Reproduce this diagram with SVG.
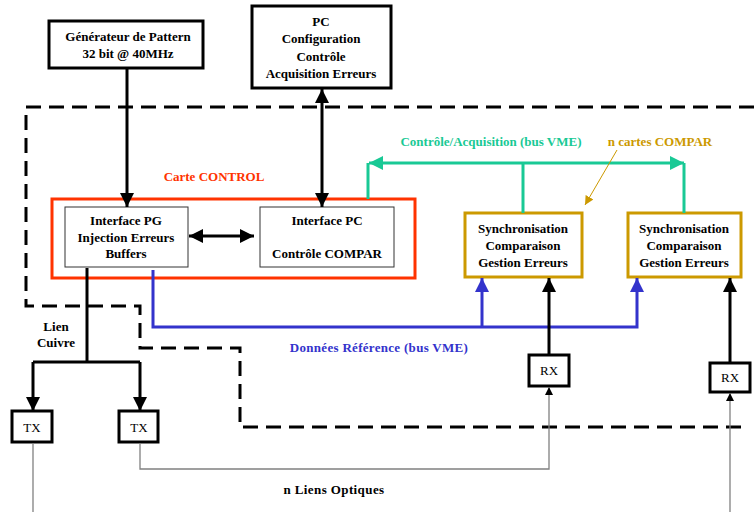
<svg xmlns="http://www.w3.org/2000/svg" width="754" height="512" viewBox="0 0 754 512">
<defs>
<marker id="ab" viewBox="0 0 10 10" refX="10" refY="5" markerWidth="14" markerHeight="14" markerUnits="userSpaceOnUse" orient="auto-start-reverse"><path d="M0,0 L10,5 L0,10 z" fill="#000"/></marker>
<marker id="ag" viewBox="0 0 10 10" refX="10" refY="5" markerWidth="14" markerHeight="14" markerUnits="userSpaceOnUse" orient="auto-start-reverse"><path d="M0,0 L10,5 L0,10 z" fill="#19c995"/></marker>
<marker id="abl" viewBox="0 0 10 10" refX="10" refY="5" markerWidth="14" markerHeight="14" markerUnits="userSpaceOnUse" orient="auto-start-reverse"><path d="M0,0 L10,5 L0,10 z" fill="#3333cc"/></marker>
<marker id="as" viewBox="0 0 10 10" refX="10" refY="5" markerWidth="8" markerHeight="8" markerUnits="userSpaceOnUse" orient="auto"><path d="M0,0 L10,5 L0,10 z" fill="#000"/></marker>
<marker id="ao" viewBox="0 0 10 10" refX="10" refY="5" markerWidth="9" markerHeight="9" markerUnits="userSpaceOnUse" orient="auto"><path d="M0,0 L10,5 L0,10 z" fill="#cc9900"/></marker>
</defs>
<style>
text{font-family:"Liberation Serif","Times New Roman",serif;font-size:13px;font-weight:bold;text-anchor:middle;fill:#000}
.reg{font-weight:normal}
.box3{fill:#fff;stroke:#000;stroke-width:3}
.thin{fill:#fff;stroke:#333;stroke-width:1}
.sync{fill:#fff;stroke:#cc9900;stroke-width:3}
.blk{fill:none;stroke:#000;stroke-width:3}
.grn{fill:none;stroke:#19c995;stroke-width:3}
.blu{fill:none;stroke:#3333cc;stroke-width:3}
.gry{fill:none;stroke:#808080;stroke-width:1.3}
</style>
<rect width="754" height="512" fill="#fff"/>
<path d="M754,107 H26 V306 H140 V348 H240 V427 H747" fill="none" stroke="#000" stroke-width="3" stroke-dasharray="15,8"/>
<text x="214" y="181" style="fill:#ff3300">Carte CONTROL</text>
<text x="491" y="146" style="fill:#19c995">Contrôle/Acquisition  (bus VME)</text>
<text x="660" y="146" style="fill:#cc9900">n  cartes COMPAR</text>
<text x="379" y="352" style="fill:#3333cc;letter-spacing:0.3px">Données Référence  (bus VME)</text>
<text x="56" y="331">Lien</text>
<text x="56" y="347">Cuivre</text>
<text x="334" y="494" style="letter-spacing:0.4px">n  Liens Optiques</text>
<g id="carte-control"><rect x="52" y="199" width="363" height="79" fill="none" stroke="#ff3300" stroke-width="3"/></g>
<g id="generateur"><rect class="box3" x="49" y="21" width="154" height="47"/><text x="128" y="41">Générateur de Pattern</text><text x="128" y="58">32 bit @ 40MHz</text></g>
<g id="pc"><rect class="box3" x="252" y="6" width="139" height="82"/><text x="321" y="26">PC</text><text x="321" y="43">Configuration</text><text x="321" y="61">Contrôle</text><text x="321" y="78">Acquisition Erreurs</text></g>
<g id="interface-pg"><rect class="thin" x="65" y="207" width="123" height="60"/><text x="126" y="225">Interface PG</text><text x="126" y="242">Injection Erreurs</text><text x="126" y="258">Buffers</text></g>
<g id="interface-pc"><rect class="thin" x="260" y="207" width="134" height="60"/><text x="327" y="225">Interface PC</text><text x="327" y="258">Contrôle COMPAR</text></g>
<g id="sync1"><rect class="sync" x="465" y="213" width="117" height="64"/><text x="523" y="233">Synchronisation</text><text x="523" y="250">Comparaison</text><text x="523" y="267">Gestion Erreurs</text></g>
<g id="sync2"><rect class="sync" x="628" y="213" width="113" height="64"/><text x="684" y="233">Synchronisation</text><text x="684" y="250">Comparaison</text><text x="684" y="267">Gestion Erreurs</text></g>
<g id="tx1"><rect class="box3" x="12" y="411" width="40" height="31"/><text class="reg" x="32" y="432">TX</text></g>
<g id="tx2"><rect class="box3" x="119" y="411" width="39" height="31"/><text class="reg" x="139" y="432">TX</text></g>
<g id="rx1"><rect class="box3" x="529" y="355" width="40" height="31"/><text class="reg" x="549" y="375">RX</text></g>
<g id="rx2"><rect class="box3" x="710" y="363" width="40" height="29"/><text class="reg" x="730" y="382">RX</text></g>
<g id="connectors">
<path class="blk" d="M127,69 V207" marker-end="url(#ab)"/>
<path class="blk" d="M322,89 V207" marker-start="url(#ab)" marker-end="url(#ab)"/>
<path class="blk" d="M189,236 H254" marker-start="url(#ab)" marker-end="url(#ab)"/>
<path class="grn" d="M368,199 V163"/>
<path class="grn" d="M369,163 H684" marker-start="url(#ag)" marker-end="url(#ag)"/>
<path class="grn" d="M523,163 V213"/>
<path class="grn" d="M684,163 V213"/>
<path d="M617,150 L585,205" stroke="#cc9900" stroke-width="1" fill="none" marker-end="url(#ao)"/>
<path class="blu" d="M153,270 V327 H637 V278" marker-end="url(#abl)"/>
<path class="blu" d="M482,327 V278" marker-end="url(#abl)"/>
<path class="blk" d="M549,355 V278" marker-end="url(#ab)"/>
<path class="blk" d="M730,363 V278" marker-end="url(#ab)"/>
<path class="blk" d="M87,268 V362"/>
<path class="blk" d="M33,362 H140"/>
<path class="blk" d="M33,362 V411" marker-end="url(#ab)"/>
<path class="blk" d="M140,362 V411" marker-end="url(#ab)"/>
<path class="gry" d="M140,443 V469 H549 V387" marker-end="url(#as)"/>
<path class="gry" d="M730,512 V393" marker-end="url(#as)"/>
<path class="gry" d="M33,443 V512"/>
</g>
</svg>
